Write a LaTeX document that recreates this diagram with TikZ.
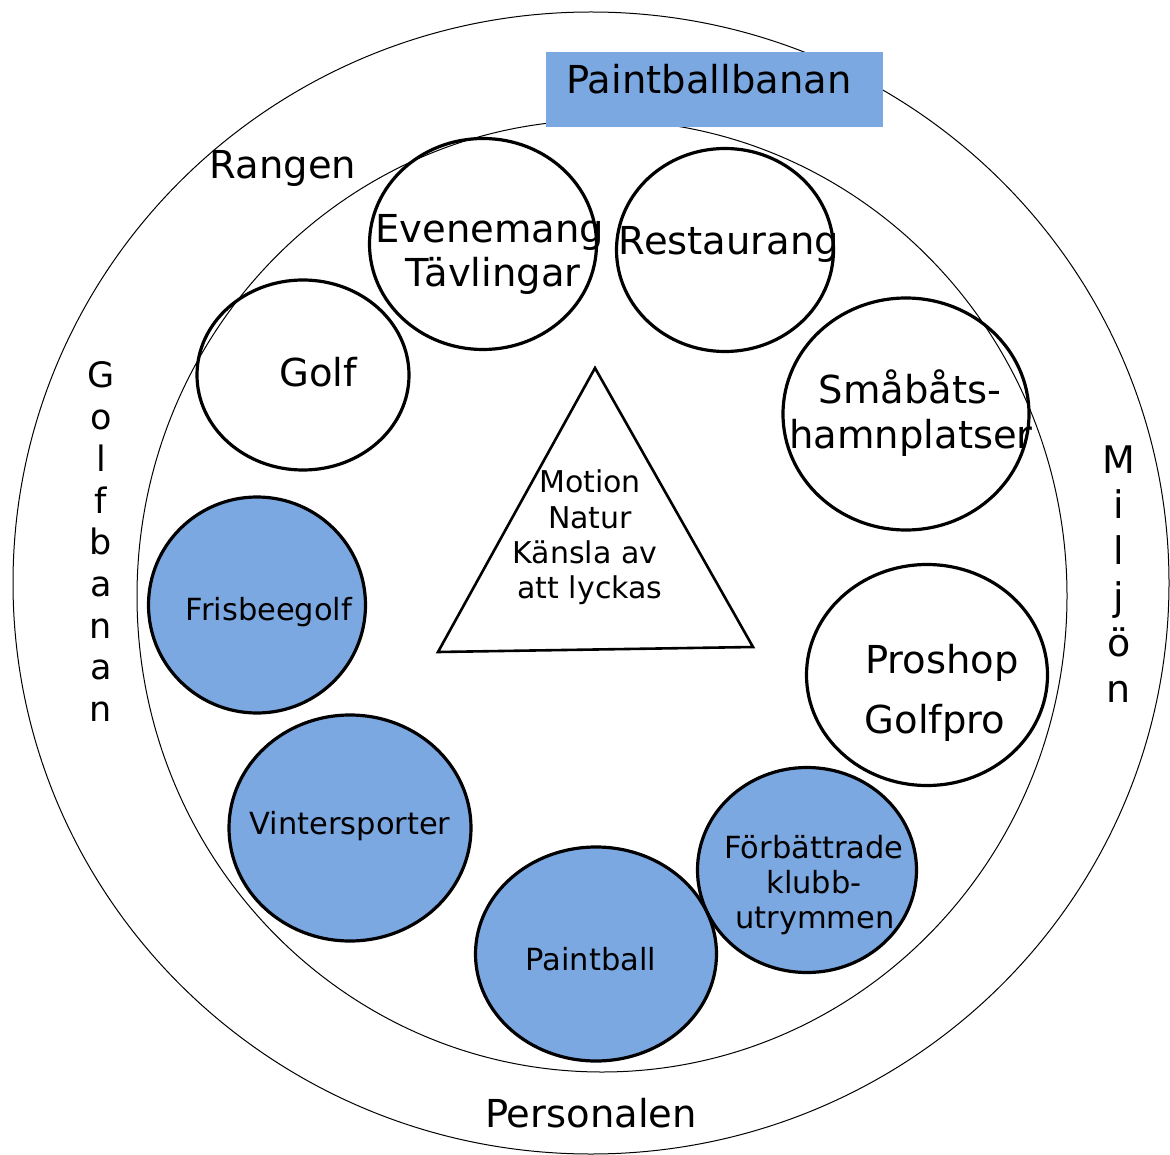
\documentclass[tikz,border=0pt]{standalone}
\usepackage{fontspec}
\setmainfont{DejaVu Sans}
\usetikzlibrary{shapes.geometric}
\definecolor{fillblue}{RGB}{124,168,226}
\begin{document}
\begin{tikzpicture}[x=1pt,y=-1pt,
  ring/.style={draw, ellipse, line width=1.0pt, inner sep=0pt},
  bubble/.style={draw, ellipse, line width=3.2pt, inner sep=0pt},
  bluebubble/.style={bubble, fill=fillblue},
  bigtext/.style={font=\fontsize{38.5}{46}\selectfont, anchor=base, inner sep=0pt},
  midtext/.style={font=\fontsize{30.5}{36}\selectfont, anchor=base, inner sep=0pt},
  tritext/.style={font=\fontsize{30}{35}\selectfont, anchor=base, inner sep=0pt},
  gbtext/.style={font=\fontsize{35}{42}\selectfont, anchor=base, inner sep=0pt},
  mjtext/.style={font=\fontsize{38}{46}\selectfont, anchor=base, inner sep=0pt}]
\useasboundingbox (0,0) rectangle (1170,1155);

% two rings
\node[ring, minimum width=1156pt, minimum height=1142pt] (outer) at (591,583) {};
\node[ring, minimum width=930pt, minimum height=952pt] (inner) at (602,596) {};

% activity bubbles
\node[bubble, minimum width=227pt, minimum height=211pt] (eve) at (483,244) {};
\node[bubble, minimum width=217pt, minimum height=203pt] (rest) at (725,250) {};
\node[bubble, minimum width=212pt, minimum height=190pt] (golf) at (303,375) {};
\node[bubble, minimum width=246pt, minimum height=232pt] (smab) at (906,414) {};
\node[bubble, minimum width=241pt, minimum height=221pt] (pro) at (927,675) {};
\node[bluebubble, minimum width=219pt, minimum height=205pt] (forb) at (807,870) {};
\node[bluebubble, minimum width=241pt, minimum height=214pt] (pball) at (596,954) {};
\node[bluebubble, minimum width=242pt, minimum height=226pt] (vint) at (350,828) {};
\node[bluebubble, minimum width=217pt, minimum height=216pt] (fris) at (257,605) {};

% central triangle
\coordinate (tA) at (595,368);
\coordinate (tB) at (438,652);
\coordinate (tC) at (753,647);
\draw[line width=2.6pt, line join=miter] (tA) -- (tB) -- (tC) -- cycle;

% banner on top
\node[fill=fillblue, minimum width=337pt, minimum height=75pt, inner sep=0pt] (pbbox) at (714.5,89.5) {};
\node[bigtext] (pbbtext) at (709,94) {Paintballbanan};

% ring labels
\node[bigtext] (rangen) at (283,179) {Rangen};
\node[bigtext] (personalen) at (591,1127) {Personalen};
\foreach \ch [count=\i from 0] in {G,o,l,f,b,a,n,a,n}
  \node[gbtext] (gb\i) at (101,388+41.7*\i) {\ch};
\foreach \ch [count=\i from 0] in {M,i,l,j,ö,n}
  \node[mjtext] (mj\i) at (1119,473+45.8*\i) {\ch};

% bubble labels
\node[bigtext] (eve1) at (490,243) {Evenemang};
\node[bigtext] (eve2) at (493,287) {Tävlingar};
\node[bigtext] (rest1) at (729,255) {Restaurang};
\node[bigtext] (golf1) at (318,387) {Golf};
\node[bigtext] (smab1) at (910,403) {Småbåts-};
\node[bigtext] (smab2) at (911,448) {hamnplatser};
\node[bigtext] (pro1) at (942,673) {Proshop};
\node[bigtext] (pro2) at (935,733) {Golfpro};
\node[midtext] (fris1) at (269,620) {Frisbeegolf};
\node[midtext] (vint1) at (350,834) {Vintersporter};
\node[midtext] (pball1) at (591,970) {Paintball};
\node[midtext] (forb1) at (814,858) {Förbättrade};
\node[midtext] (forb2) at (814,893) {klubb-};
\node[midtext] (forb3) at (815,928) {utrymmen};

% triangle labels
\node[tritext] (tri1) at (590,492) {Motion};
\node[tritext] (tri2) at (590,528) {Natur};
\node[tritext] (tri3) at (585,563) {Känsla av};
\node[tritext] (tri4) at (590,598) {att lyckas};
\end{tikzpicture}
\end{document}
